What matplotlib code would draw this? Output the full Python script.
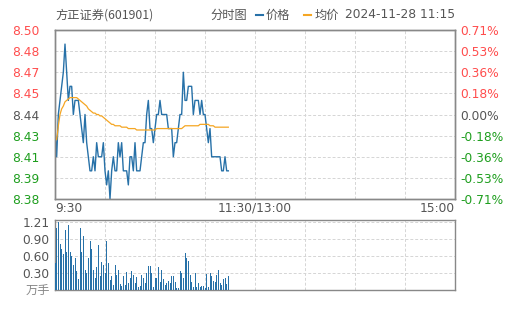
import numpy as np
import matplotlib
matplotlib.use("Agg")
from matplotlib import pyplot as plt

# ---------------------------------------------------------------
# data (one value per minute from 9:30)
# ---------------------------------------------------------------
price = [8.43, 8.41, 8.44, 8.45, 8.46, 8.47, 8.49, 8.47, 8.45, 8.46,
         8.46, 8.44, 8.45, 8.45, 8.45, 8.44, 8.43, 8.42, 8.44, 8.42,
         8.41, 8.40, 8.40, 8.41, 8.40, 8.42, 8.41, 8.41, 8.41, 8.42,
         8.40, 8.39, 8.40, 8.38, 8.40, 8.41, 8.40, 8.40, 8.42, 8.41,
         8.42, 8.40, 8.40, 8.40, 8.39, 8.41, 8.41, 8.40, 8.42, 8.40,
         8.40, 8.40, 8.41, 8.42, 8.42, 8.44, 8.45, 8.43, 8.43, 8.42,
         8.43, 8.44, 8.44, 8.45, 8.44, 8.44, 8.44, 8.44, 8.43, 8.43,
         8.43, 8.41, 8.42, 8.42, 8.43, 8.44, 8.44, 8.47, 8.45, 8.45,
         8.46, 8.46, 8.46, 8.44, 8.45, 8.45, 8.45, 8.44, 8.45, 8.44,
         8.44, 8.43, 8.42, 8.43, 8.41, 8.41, 8.41, 8.41, 8.41, 8.41,
         8.40, 8.40, 8.41, 8.40, 8.40]

avg_price = [8.425, 8.422, 8.432, 8.440, 8.444, 8.446, 8.449, 8.450, 8.451, 8.452,
             8.452, 8.452, 8.452, 8.452, 8.451, 8.450, 8.449, 8.448, 8.447, 8.446,
             8.444, 8.443, 8.442, 8.441, 8.441, 8.440, 8.440, 8.439, 8.439, 8.438,
             8.437, 8.436, 8.435, 8.434, 8.433, 8.433, 8.432, 8.432, 8.432, 8.432,
             8.431, 8.431, 8.431, 8.431, 8.430, 8.430, 8.430, 8.430, 8.430, 8.429,
             8.429, 8.429, 8.429, 8.429, 8.429, 8.429, 8.429, 8.429, 8.429, 8.429,
             8.429, 8.430, 8.430, 8.430, 8.430, 8.430, 8.430, 8.430, 8.430, 8.430,
             8.430, 8.430, 8.430, 8.430, 8.430, 8.430, 8.430, 8.431, 8.432, 8.432,
             8.432, 8.432, 8.432, 8.432, 8.432, 8.432, 8.432, 8.433, 8.433, 8.433,
             8.433, 8.433, 8.433, 8.432, 8.432, 8.432, 8.431, 8.431, 8.431, 8.431,
             8.431, 8.431, 8.431, 8.431, 8.431]

volume = [0.48, 1.09, 1.21, 0.81, 0.73, 0.64, 1.07, 0.67, 1.15, 0.67,
          0.61, 0.45, 0.57, 0.33, 0.19, 1.09, 0.67, 0.95, 0.36, 0.30,
          0.57, 0.86, 0.72, 0.36, 0.21, 0.41, 0.79, 0.24, 0.50, 0.45,
          0.30, 0.86, 0.48, 0.17, 0.25, 0.09, 0.44, 0.27, 0.35, 0.11,
          0.07, 0.25, 0.09, 0.32, 0.12, 0.21, 0.34, 0.26, 0.12, 0.23,
          0.06, 0.07, 0.26, 0.21, 0.13, 0.30, 0.43, 0.43, 0.31, 0.06,
          0.22, 0.22, 0.41, 0.15, 0.35, 0.19, 0.09, 0.12, 0.16, 0.13,
          0.24, 0.24, 0.15, 0.03, 0.03, 0.33, 0.30, 0.21, 0.66, 0.57,
          0.51, 0.27, 0.15, 0.06, 0.31, 0.06, 0.13, 0.05, 0.07, 0.07,
          0.03, 0.29, 0.05, 0.31, 0.24, 0.16, 0.15, 0.27, 0.36, 0.13,
          0.09, 0.19, 0.22, 0.11, 0.24]

prev_close = 8.44
price_ticks = [8.38, 8.395, 8.41, 8.425, 8.44, 8.455, 8.47, 8.485, 8.50]
price_labels = ["8.38", "8.39", "8.41", "8.43", "8.44", "8.45", "8.47", "8.48", "8.50"]
pct_labels = ["-0.71%", "-0.53%", "-0.36%", "-0.18%", "0.00%", "0.18%", "0.36%", "0.53%", "0.71%"]
vol_ticks = [0.30, 0.60, 0.90, 1.21]
vol_labels = ["0.30", "0.60", "0.90", "1.21"]
time_ticks = [0, 120, 240]
time_labels = ["9:30", "11:30/13:00", "15:00"]

title = "方正证券(601901)"
chart_name = "分时图"
legend_price = "价格"
legend_avg = "均价"
stamp = "2024-11-28 11:15"
vol_unit = "万手"

# ---------------------------------------------------------------
blue = "#2771a8"
orange = "#f5a623"
red = "#ff4d4d"
green = "#1e9e1e"
grey = "#555555"
frame = "#888888"
gridc = "#d5d5d5"
cjk = ["Noto Sans CJK SC", "DejaVu Sans"]
fs = 8.8
W, H = 505, 310

fig = plt.figure(figsize=(5.05, 3.10), dpi=100)
ax = fig.add_axes([55/W, 111/H, 400/W, 169/H])
axv = fig.add_axes([55/W, 20/H, 400/W, 70/H])

def level_color(v):
    if v > prev_close + 1e-9:
        return red
    if v < prev_close - 1e-9:
        return green
    return grey

# price panel -----------------------------------------------------
ax.plot(np.arange(len(price)), price, color=blue, lw=1.0, zorder=3)
ax.plot(np.arange(len(avg_price)), avg_price, color=orange, lw=0.9, zorder=3)
ax.set_xlim(0, 240)
ax.set_ylim(8.38, 8.50)
ax.set_xticks(np.arange(30, 240, 30), minor=True)
ax.set_yticks(price_ticks)
ax.set_yticklabels(price_labels)
ax.set_xticks(time_ticks)
ax.set_xticklabels(time_labels)
ax.grid(True, which="both", axis="x", color=gridc, ls=(0, (3, 2)), lw=0.7)
ax.grid(True, axis="y", color=gridc, ls=(0, (3, 2)), lw=0.7)
ax.tick_params(axis="both", which="both", length=0)
ax.tick_params(axis="y", labelsize=fs, pad=11)
ax.tick_params(axis="x", labelsize=fs, colors=grey, pad=2)
xl = ax.get_xticklabels()
xl[0].set_ha("left")
xl[2].set_ha("right")
for lab, v in zip(ax.get_yticklabels(), price_ticks):
    lab.set_color(level_color(v))

axr = ax.twinx()
axr.set_ylim(8.38, 8.50)
axr.set_yticks(price_ticks)
axr.set_yticklabels(pct_labels)
axr.tick_params(axis="y", length=0, labelsize=fs, pad=4)
for lab, v in zip(axr.get_yticklabels(), price_ticks):
    lab.set_color(level_color(v))

for a in (ax, axr, axv):
    for s in a.spines.values():
        s.set_color(frame)
        s.set_linewidth(1.0)

# volume panel ----------------------------------------------------
axv.bar(np.arange(len(volume)), volume, width=0.6, color=blue, zorder=3)
axv.set_xlim(0, 240)
axv.set_ylim(0, 1.24)
axv.set_xticks(np.arange(30, 240, 30))
axv.set_xticklabels([])
axv.set_yticks(vol_ticks)
axv.set_yticklabels(vol_labels)
axv.grid(True, axis="x", color=gridc, ls=(0, (3, 2)), lw=0.7)
axv.yaxis.grid(True, color=gridc, ls=(0, (3, 2)), lw=0.7)
axv.tick_params(axis="both", length=0, labelsize=fs, colors=grey)
axv.tick_params(axis="y", pad=4)
fig.text(50/W, 1 - 291/H, vol_unit, ha="right", va="center", fontsize=fs,
         color="#888888", family=cjk)

# header, laid out from the right edge -----------------------------
ty = 1 - 15/H
fig.text(55/W, ty, title, ha="left", va="center", fontsize=fs, color=grey, family=cjk)
r = fig.canvas.get_renderer()

def width_px(t):
    return t.get_window_extent(renderer=r).width

x = 455
t = fig.text(x/W, ty, stamp, ha="right", va="center", fontsize=fs, color=grey)
x -= width_px(t) + 6
t = fig.text(x/W, ty, legend_avg, ha="right", va="center", fontsize=fs, color=grey, family=cjk)
x -= width_px(t) + 3
fig.add_artist(plt.Line2D([(x - 7)/W, x/W], [ty, ty], color=orange, lw=1.5))
x -= 7 + 14
t = fig.text(x/W, ty, legend_price, ha="right", va="center", fontsize=fs, color=grey, family=cjk)
x -= width_px(t) + 3
fig.add_artist(plt.Line2D([(x - 7)/W, x/W], [ty, ty], color=blue, lw=1.5))
x -= 7 + 9
fig.text(x/W, ty, chart_name, ha="right", va="center", fontsize=fs, color=grey, family=cjk)

fig.savefig("out.png", dpi=100)
plt.close()
